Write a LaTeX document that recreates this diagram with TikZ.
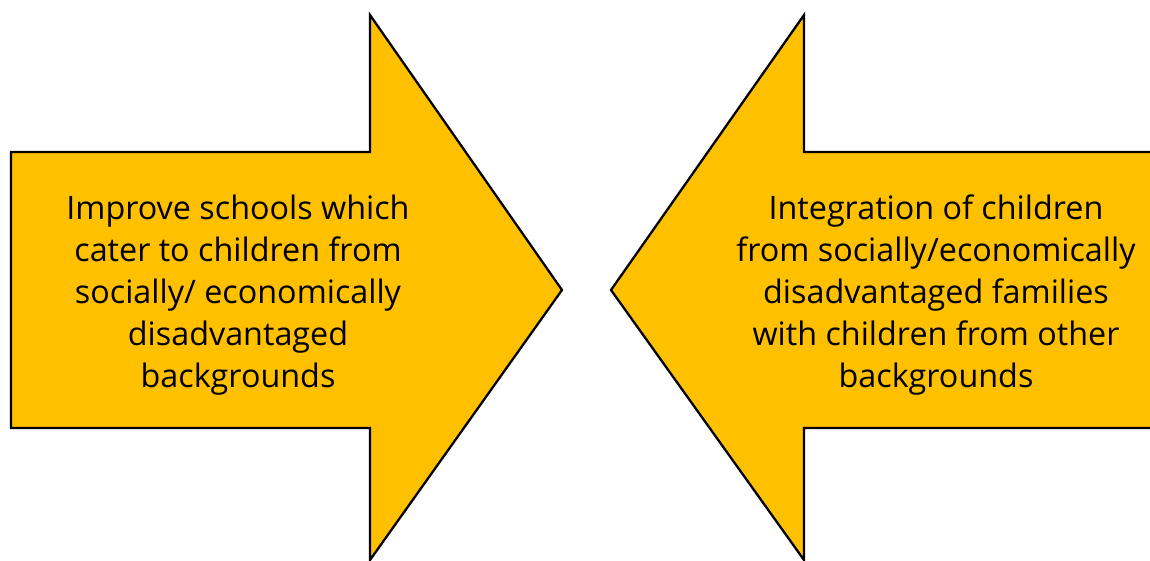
\documentclass[tikz,border=0pt]{standalone}
\usepackage{fontspec}
\setmainfont{Open Sans}
\definecolor{arrowfill}{HTML}{FFC000}
\begin{document}
\begin{tikzpicture}[x=0.02cm,y=-0.02cm,
  bigarrow/.style={fill=arrowfill,draw=black,line width=1.3pt,line join=miter},
  label/.style={align=center,font=\fontsize{18.4}{23.8}\selectfont,text=black,inner sep=0pt}]
  \useasboundingbox (0,0) rectangle (1150,561);
  \clip (0,0) rectangle (1150,561);
  % arrow pointing right
  \draw[bigarrow] (11,152) -- (370,152) -- (370,15) -- (562,290) -- (370,560)
    -- (370,428) -- (11,428) -- cycle;
  % arrow pointing left, its tail running past the right edge
  \draw[bigarrow] (1170,152) -- (804,152) -- (804,15) -- (611,290) -- (804,560)
    -- (804,428) -- (1170,428) -- cycle;
  \node[label] (left) at (238,295) {Improve schools which\\cater to children from\\socially/ economically\\disadvantaged\\backgrounds};
  \node[label] (right) at (936,295) {Integration of children\\from socially/economically\\disadvantaged families\\with children from other\\backgrounds};
\end{tikzpicture}
\end{document}
